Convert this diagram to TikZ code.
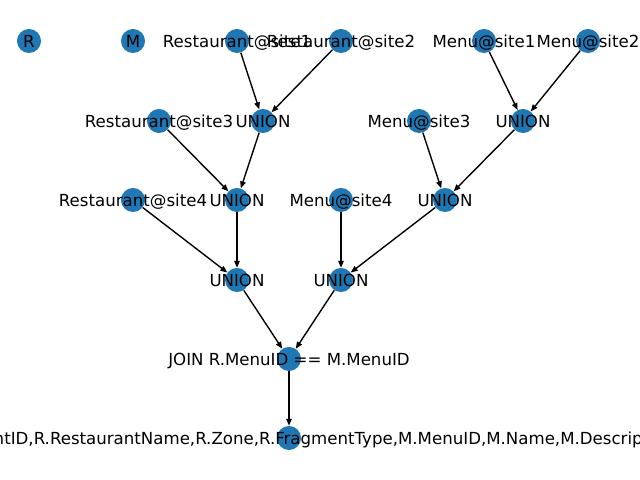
\documentclass[tikz,border=0pt]{standalone}
\usepackage{fontspec}
\setmainfont{DejaVu Sans}
\usetikzlibrary{arrows.meta}
\definecolor{nxblue}{HTML}{1F77B4}
\begin{document}
\begin{tikzpicture}[x=0.01in,y=-0.01in,
  vtx/.style={circle,fill=nxblue,inner sep=0pt,minimum size=0.24in},
  lbl/.style={font=\fontsize{12}{14}\selectfont,inner sep=0pt,anchor=base,yshift=-0.065in},
  edge/.style={-{Triangle[length=5pt,width=4pt]},line width=1pt,black}]
\useasboundingbox (0,0) rectangle (640,480);
\clip (0,0) rectangle (640,480);
% vertices
\node[vtx] (r)    at (29,41) {};
\node[vtx] (m)    at (133,41) {};
\node[vtx] (rs1)  at (237,41) {};
\node[vtx] (rs2)  at (341,41) {};
\node[vtx] (ms1)  at (484,41) {};
\node[vtx] (ms2)  at (588,41) {};
\node[vtx] (rs3)  at (159,121) {};
\node[vtx] (u1)   at (263,121) {};
\node[vtx] (ms3)  at (419,121) {};
\node[vtx] (um1)  at (523,121) {};
\node[vtx] (rs4)  at (133,200) {};
\node[vtx] (u2)   at (237,200) {};
\node[vtx] (ms4)  at (341,200) {};
\node[vtx] (um2)  at (445,200) {};
\node[vtx] (u3)   at (237,280) {};
\node[vtx] (um3)  at (341,280) {};
\node[vtx] (join) at (289,359) {};
\node[vtx] (proj) at (289,438) {};
% edges
\draw[edge] (rs1) -- (u1);
\draw[edge] (rs2) -- (u1);
\draw[edge] (rs3) -- (u2);
\draw[edge] (u1) -- (u2);
\draw[edge] (rs4) -- (u3);
\draw[edge] (u2) -- (u3);
\draw[edge] (ms1) -- (um1);
\draw[edge] (ms2) -- (um1);
\draw[edge] (ms3) -- (um2);
\draw[edge] (um1) -- (um2);
\draw[edge] (ms4) -- (um3);
\draw[edge] (um2) -- (um3);
\draw[edge] (u3) -- (join);
\draw[edge] (um3) -- (join);
\draw[edge] (join) -- (proj);
% labels
\node[lbl] (lr)    at (r)    {R};
\node[lbl] (lm)    at (m)    {M};
\node[lbl] (lrs1)  at (rs1)  {Restaurant@site1};
\node[lbl] (lrs2)  at (rs2)  {Restaurant@site2};
\node[lbl] (lms1)  at (ms1)  {Menu@site1};
\node[lbl] (lms2)  at (ms2)  {Menu@site2};
\node[lbl] (lrs3)  at (rs3)  {Restaurant@site3};
\node[lbl] (lu1)   at (u1)   {UNION};
\node[lbl] (lms3)  at (ms3)  {Menu@site3};
\node[lbl] (lum1)  at (um1)  {UNION};
\node[lbl] (lrs4)  at (rs4)  {Restaurant@site4};
\node[lbl] (lu2)   at (u2)   {UNION};
\node[lbl] (lms4)  at (ms4)  {Menu@site4};
\node[lbl] (lum2)  at (um2)  {UNION};
\node[lbl] (lu3)   at (u3)   {UNION};
\node[lbl] (lum3)  at (um3)  {UNION};
\node[lbl] (ljoin) at (join) {JOIN R.MenuID == M.MenuID};
\node[lbl] (lproj) at (proj) {R.RestaurantID,R.RestaurantName,R.Zone,R.FragmentType,M.MenuID,M.Name,M.Description};
\end{tikzpicture}
\end{document}
